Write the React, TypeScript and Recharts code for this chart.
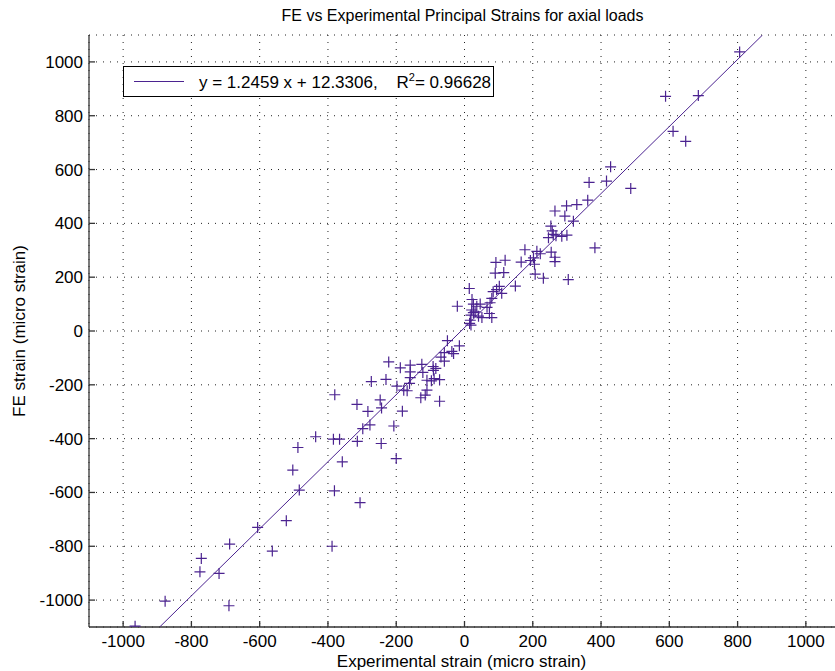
import { CartesianGrid, Legend, Scatter, ScatterChart, XAxis, YAxis } from "recharts";

const expStrain = [
  806, 589, 685, 611, 648, 428, 365, 416, 487, 361, 329, 299, 265, 294, 319, 382, 304,
  253, 257, 260, 246, 268, 300, 285,
  177, 212, 202, 166, 193, 222, 254, 265, 265, 205, 207, 231,
  119, 92, 90, 115, 149, 102, 94, 109, 84,
  14, 22, -21, 26, 36, 46, 80, 75, 66, 21, 19, 26, 41, 51, 73, 80, 17, 15, 19, 31,
  -50, -15, -37, -59, -32, -69, -59, -125, -92, -91, -84, -159, -188, -222, -159, -122,
  -89, -73, -97, -159, -110, -230, -273, -198, -178, -161, -168, -110, -115, -128, -73,
  -247, -243, -182, -207, -380, -315, -283, -298, -277, -436, -384, -366, -314, -244,
  -200, -358, -488, -503, -484, -381, -306, -522, -606, -688, -563, -388, -771, -775,
  -719, -877, -690, -965,
];
const feStrain = [
  1037, 872, 875, 742, 705, 610, 552, 557, 530, 486, 470, 465, 446, 427, 408, 309, 191,
  390, 372, 359, 347, 354, 356, 352,
  302, 296, 272, 256, 262, 287, 293, 274, 258, 248, 211, 196,
  263, 255, 215, 217, 167, 166, 154, 140, 146,
  158, 117, 92, 100, 92, 100, 121, 105, 88, 78, 59, 68, 55, 50, 65, 50, 40, 28, 22, 71,
  -36, -55, -76, -80, -84, -97, -112, -124, -132, -146, -139, -127, -137, -115, -152, -154,
  -177, -181, -185, -173, -183, -180, -188, -205, -220, -195, -222, -220, -238, -248, -261,
  -256, -286, -298, -353, -237, -273, -299, -363, -349, -393, -402, -402, -410, -418,
  -474, -486, -433, -517, -591, -594, -638, -705, -730, -792, -818, -800, -845, -895,
  -901, -1004, -1021, -1097,
];

// Least-squares fit y = 1.2459 x + 12.3306, endpoints where it leaves the axes box.
const fitX = [-893, 873];
const fitY = [-1100, 1100];

const ticks = [-1000, -800, -600, -400, -200, 0, 200, 400, 600, 800, 1000];

const PURPLE = "#4b2390";
const FONT = '"Liberation Sans", Arial, Helvetica, sans-serif';

const points = expStrain.map((x, i) => ({ x, y: feStrain[i] }));
const fitLine = fitX.map((x, i) => ({ x, y: fitY[i] }));

function Cross(props: { cx?: number; cy?: number }) {
  const { cx, cy } = props;
  if (cx == null || cy == null) return <g />;
  return (
    <path
      d={`M${cx - 5.5},${cy}H${cx + 5.5}M${cx},${cy - 5.5}V${cy + 5.5}`}
      stroke={PURPLE}
      strokeWidth={1.2}
      fill="none"
    />
  );
}

function FitLegend() {
  return (
    <div
      style={{
        boxSizing: "border-box",
        width: 371,
        height: 31,
        border: "1.5px solid #000",
        background: "#fff",
        display: "flex",
        alignItems: "center",
        fontFamily: FONT,
        fontSize: 17,
        color: "#000",
        whiteSpace: "pre",
      }}
    >
      <span style={{ display: "inline-block", width: 50, height: 0, borderTop: `1px solid ${PURPLE}`, marginLeft: 10, marginRight: 15 }} />
      <span>
        y = 1.2459 x + 12.3306,    R<sup style={{ fontSize: 11 }}>2</sup>= 0.96628
      </span>
    </div>
  );
}

export default function App() {
  return (
    <div
      style={{
        position: "fixed",
        left: 0,
        top: 0,
        width: 835,
        height: 671,
        overflow: "hidden",
        background: "#fff",
        fontFamily: FONT,
      }}
    >
      <div
        style={{
          position: "absolute",
          left: 0,
          width: 925,
          top: 7,
          textAlign: "center",
          fontSize: 16,
          color: "#000",
        }}
      >
        FE vs Experimental Principal Strains for axial loads
      </div>
      <ScatterChart width={850} height={671} margin={{ top: 35, right: 10, bottom: 14, left: 29 }}>
        <CartesianGrid stroke="#222" strokeDasharray="1 6" strokeWidth={1} />
        <XAxis
          type="number"
          dataKey="x"
          domain={[-1100, 1100]}
          ticks={ticks}
          height={30}
          tickSize={-6}
          tickMargin={14}
          tick={{ fill: "#000", fontSize: 17, fontFamily: FONT }}
          axisLine={{ stroke: "#333", strokeWidth: 1.3 }}
          tickLine={{ stroke: "#333", strokeWidth: 1.3 }}
          allowDataOverflow
          label={{
            content: ({ viewBox }: any) => (
              <text x={viewBox.x + viewBox.width / 2 - 3} y={viewBox.y + 40} textAnchor="middle" fontSize={17} fontFamily={FONT} fill="#000">
                Experimental strain (micro strain)
              </text>
            ),
          }}
        />
        <YAxis
          type="number"
          dataKey="y"
          domain={[-1100, 1100]}
          ticks={ticks}
          width={60}
          tickSize={-6}
          tickMargin={12}
          tick={{ fill: "#000", fontSize: 17, fontFamily: FONT }}
          axisLine={{ stroke: "#333", strokeWidth: 1.3 }}
          tickLine={{ stroke: "#333", strokeWidth: 1.3 }}
          allowDataOverflow
          label={{
            content: ({ viewBox }: any) => {
              const cx = viewBox.x - 4;
              const cy = viewBox.y + viewBox.height / 2;
              return (
                <text x={cx} y={cy} transform={`rotate(-90 ${cx} ${cy})`} textAnchor="middle" fontSize={17} fontFamily={FONT} fill="#000">
                  FE strain (micro strain)
                </text>
              );
            },
          }}
        />
        <Legend
          layout="horizontal"
          verticalAlign="middle"
          align="center"
          content={() => <FitLegend />}
          wrapperStyle={{ position: "absolute", left: 123, top: 66, width: 371, height: 31 }}
        />
        <Scatter data={points} shape={Cross} isAnimationActive={false} legendType="none" />
        <Scatter
          data={fitLine}
          line={{ stroke: PURPLE, strokeWidth: 1 }}
          shape={() => <g />}
          isAnimationActive={false}
          legendType="none"
        />
      </ScatterChart>
    </div>
  );
}
